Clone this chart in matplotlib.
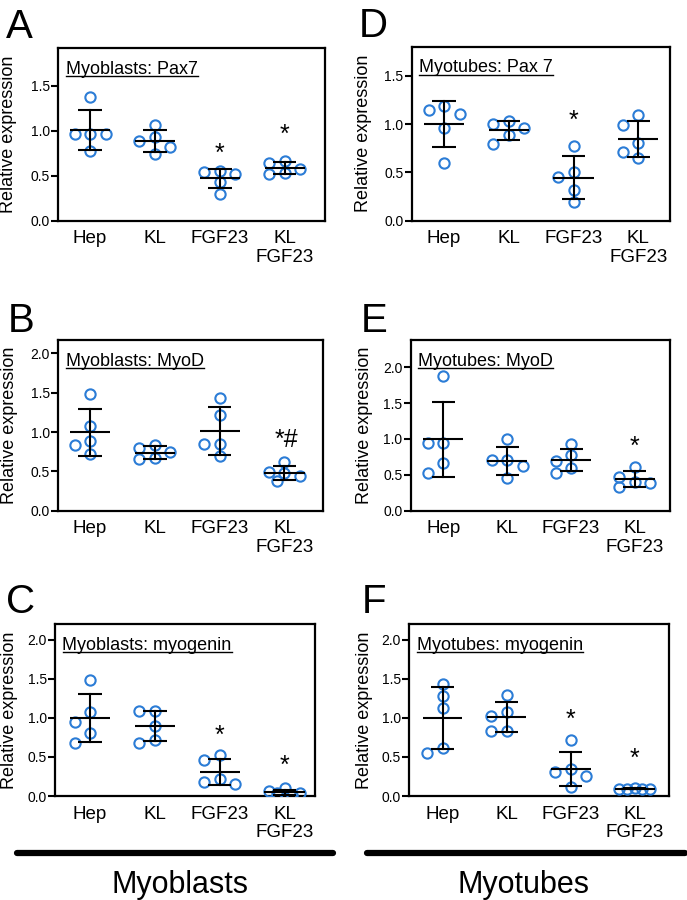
import numpy as np
import matplotlib
matplotlib.use('Agg')
import matplotlib.pyplot as plt
from matplotlib.lines import Line2D

plt.rcParams['font.family'] = ['Liberation Sans', 'DejaVu Sans']

# ---------------- data ----------------
GROUPS = ['Hep', 'KL', 'FGF23', 'KL\nFGF23']
YLABEL = 'Relative expression'

A_TITLE = 'Myoblasts: Pax7'
A_HEP = [1.37, 0.96, 0.96, 0.96, 0.77]
A_KL = [1.06, 0.93, 0.885, 0.82, 0.74]
A_FGF = [0.544, 0.556, 0.52, 0.433, 0.293]
A_KLFGF = [0.571, 0.663, 0.516, 0.638, 0.527]
A_MARKS = [(2, '*', 0.74), (3, '*', 0.95)]
A_TICKS = [0.0, 0.5, 1.0, 1.5]

D_TITLE = 'Myotubes: Pax 7'
D_HEP = [1.10, 1.14, 1.19, 0.96, 0.60]
D_KL = [1.00, 1.03, 0.96, 0.89, 0.79]
D_FGF = [0.77, 0.50, 0.455, 0.317, 0.19]
D_KLFGF = [1.09, 0.99, 0.80, 0.71, 0.645]
D_MARKS = [(2, '*', 1.03)]
D_TICKS = [0.0, 0.5, 1.0, 1.5]

B_TITLE = 'Myoblasts: MyoD'
B_HEP = [1.48, 1.08, 0.89, 0.83, 0.72]
B_KL = [0.75, 0.835, 0.666, 0.793, 0.653]
B_FGF = [1.43, 1.22, 0.85, 0.85, 0.70]
B_KLFGF = [0.475, 0.615, 0.496, 0.445, 0.38]
B_MARKS = [(3, '*#', 0.90)]
B_TICKS = [0.0, 0.5, 1.0, 1.5, 2.0]

E_TITLE = 'Myotubes: MyoD'
E_HEP = [1.88, 0.95, 0.94, 0.67, 0.53]
E_KL = [0.995, 0.71, 0.71, 0.62, 0.46]
E_FGF = [0.93, 0.77, 0.69, 0.60, 0.53]
E_KLFGF = [0.405, 0.614, 0.474, 0.382, 0.335]
E_MARKS = [(3, '*', 0.89)]
E_TICKS = [0.0, 0.5, 1.0, 1.5, 2.0]

C_TITLE = 'Myoblasts: myogenin'
C_HEP = [1.49, 1.07, 0.95, 0.81, 0.68]
C_KL = [1.085, 1.09, 0.90, 0.68, 0.715]
C_FGF = [0.52, 0.46, 0.22, 0.18, 0.15]
C_KLFGF = [0.035, 0.10, 0.015, 0.06, 0.035]
C_MARKS = [(2, '*', 0.77), (3, '*', 0.38)]
C_TICKS = [0.0, 0.5, 1.0, 1.5, 2.0]

F_TITLE = 'Myotubes: myogenin'
F_HEP = [1.43, 1.28, 1.13, 0.61, 0.545]
F_KL = [1.29, 1.08, 1.02, 0.83, 0.83]
F_FGF = [0.71, 0.31, 0.34, 0.255, 0.12]
F_KLFGF = [0.09, 0.10, 0.09, 0.095, 0.09]
F_MARKS = [(2, '*', 0.98), (3, '*', 0.47)]
F_TICKS = [0.0, 0.5, 1.0, 1.5, 2.0]

BOTTOM_LABELS = ['Myoblasts', 'Myotubes']

# ---------------- layout (pixels, y from top) ----------------
W, H = 687, 900
BLUE = '#2B7CD6'

panels = [
    ('A', A_TITLE, [A_HEP, A_KL, A_FGF, A_KLFGF], A_MARKS, A_TICKS,
     (58.3, 325, 48.3, 220.7), (0, 1.915), (-0.49, 3.62), (6, 38), 9),
    ('D', D_TITLE, [D_HEP, D_KL, D_FGF, D_KLFGF], D_MARKS, D_TICKS,
     (411.7, 670, 46.7, 220.7), (0, 1.80), (-0.50, 3.49), (359, 37), 363.5),
    ('B', B_TITLE, [B_HEP, B_KL, B_FGF, B_KLFGF], B_MARKS, B_TICKS,
     (58.3, 322.7, 340, 510.7), (0, 2.17), (-0.49, 3.59), (8, 332), 10),
    ('E', E_TITLE, [E_HEP, E_KL, E_FGF, E_KLFGF], E_MARKS, E_TICKS,
     (410.7, 670, 340, 510.7), (0, 2.38), (-0.51, 3.55), (361, 332), 364),
    ('C', C_TITLE, [C_HEP, C_KL, C_FGF, C_KLFGF], C_MARKS, C_TICKS,
     (55, 315, 624, 796), (0, 2.20), (-0.54, 3.47), (6, 613), 10),
    ('F', F_TITLE, [F_HEP, F_KL, F_FGF, F_KLFGF], F_MARKS, F_TICKS,
     (409.3, 669.3, 624, 796), (0, 2.20), (-0.52, 3.54), (362, 613), 364),
]

fig = plt.figure(figsize=(W / 100, H / 100), dpi=100)
fig.patch.set_facecolor('white')

STEP = 15.5   # px between scatter columns
COLL = 10.5   # px collision distance


def scatter_x(ax, xc, vals):
    """Prism-like column scatter: grid slots 0, +-STEP, +-STEP/2 with collision test."""
    vals = np.asarray(vals, dtype=float)
    pix = ax.transData.transform(np.column_stack([np.full(len(vals), xc), vals]))
    cx = pix[0, 0]
    order = np.argsort(-vals, kind='stable')
    cands = [0.0, -STEP, STEP, -STEP / 2, STEP / 2]
    placed = []
    off = np.zeros(len(vals))
    for i in order:
        py = pix[i, 1]
        best, bestd = None, -1
        for c in cands:
            dmin = min([np.hypot(c - qx, py - qy) for qx, qy in placed] or [1e9])
            if dmin >= COLL:
                best = c
                break
            if dmin > bestd:
                bestd, best = dmin, c
        placed.append((best, py))
        off[i] = best
    inv = ax.transData.inverted()
    return inv.transform(np.column_stack([cx + off, pix[:, 1]]))[:, 0]


titles = []
for (letter, title, data, marks, ticks, box, ylim, xlim, lpos, ylx) in panels:
    x0, x1, y0, y1 = box
    ax = fig.add_axes([x0 / W, 1 - y1 / H, (x1 - x0) / W, (y1 - y0) / H])
    ax.set_xlim(*xlim)
    ax.set_ylim(*ylim)
    for sp in ax.spines.values():
        sp.set_linewidth(1.6)
        sp.set_color('black')
    ax.set_yticks(ticks)
    ax.set_yticklabels([f'{t:.1f}' for t in ticks], fontsize=10)
    ax.tick_params(axis='y', direction='out', length=5, width=1.5, pad=1)
    ax.set_xticks(range(len(GROUPS)))
    ax.set_xticklabels(GROUPS, fontsize=13.5, linespacing=1.1)
    ax.tick_params(axis='x', length=0, pad=7)

    for gi, vals in enumerate(data):
        vals = np.asarray(vals, dtype=float)
        m = vals.mean()
        sd = vals.std(ddof=1)
        xs = scatter_x(ax, gi, vals)
        ax.plot(xs, vals, 'o', ms=7.4, mfc='none', mec=BLUE, mew=1.5, zorder=3)
        ax.plot([gi - 0.31, gi + 0.31], [m, m], color='black', lw=1.5, zorder=4,
                solid_capstyle='butt')
        ax.plot([gi, gi], [m - sd, m + sd], color='black', lw=1.5, zorder=4)
        for yy in (m - sd, m + sd):
            ax.plot([gi - 0.18, gi + 0.18], [yy, yy], color='black', lw=1.5, zorder=4,
                    solid_capstyle='butt')

    for gi, txt, yv in marks:
        ax.text(gi + (0.03 if len(txt) > 1 else 0), yv, txt, ha='center', va='center',
                fontsize=18, zorder=5)

    t = fig.text((x0 + 7.5) / W, 1 - (y0 + 25.5) / H, title, fontsize=13,
                 ha='left', va='baseline')
    titles.append(t)

    fig.text(lpos[0] / W, 1 - lpos[1] / H, letter, fontsize=29, ha='left', va='baseline')
    fig.text(ylx / W, 1 - ((y0 + y1) / 2) / H, YLABEL, rotation=90, fontsize=13,
             ha='center', va='center')

# underline titles
fig.canvas.draw()
r = fig.canvas.get_renderer()
for t in titles:
    bb = t.get_window_extent(renderer=r)
    tx, ty = t.get_position()
    yline = (ty * H - 2.5) / H
    fig.add_artist(Line2D([bb.x0 / W, bb.x1 / W], [yline, yline], color='black', lw=1.0))

# group bars and labels
for (xa, xb, yb), lab, xc in [((17, 333, 852.7), BOTTOM_LABELS[0], 180),
                               ((367, 685, 852.7), BOTTOM_LABELS[1], 524)]:
    fig.add_artist(Line2D([xa / W, xb / W], [1 - yb / H, 1 - yb / H], color='black',
                          lw=4.5, solid_capstyle='round'))
    fig.text(xc / W, 1 - 893 / H, lab, fontsize=22, ha='center', va='baseline')

fig.savefig('out.png', dpi=100, facecolor='white')
